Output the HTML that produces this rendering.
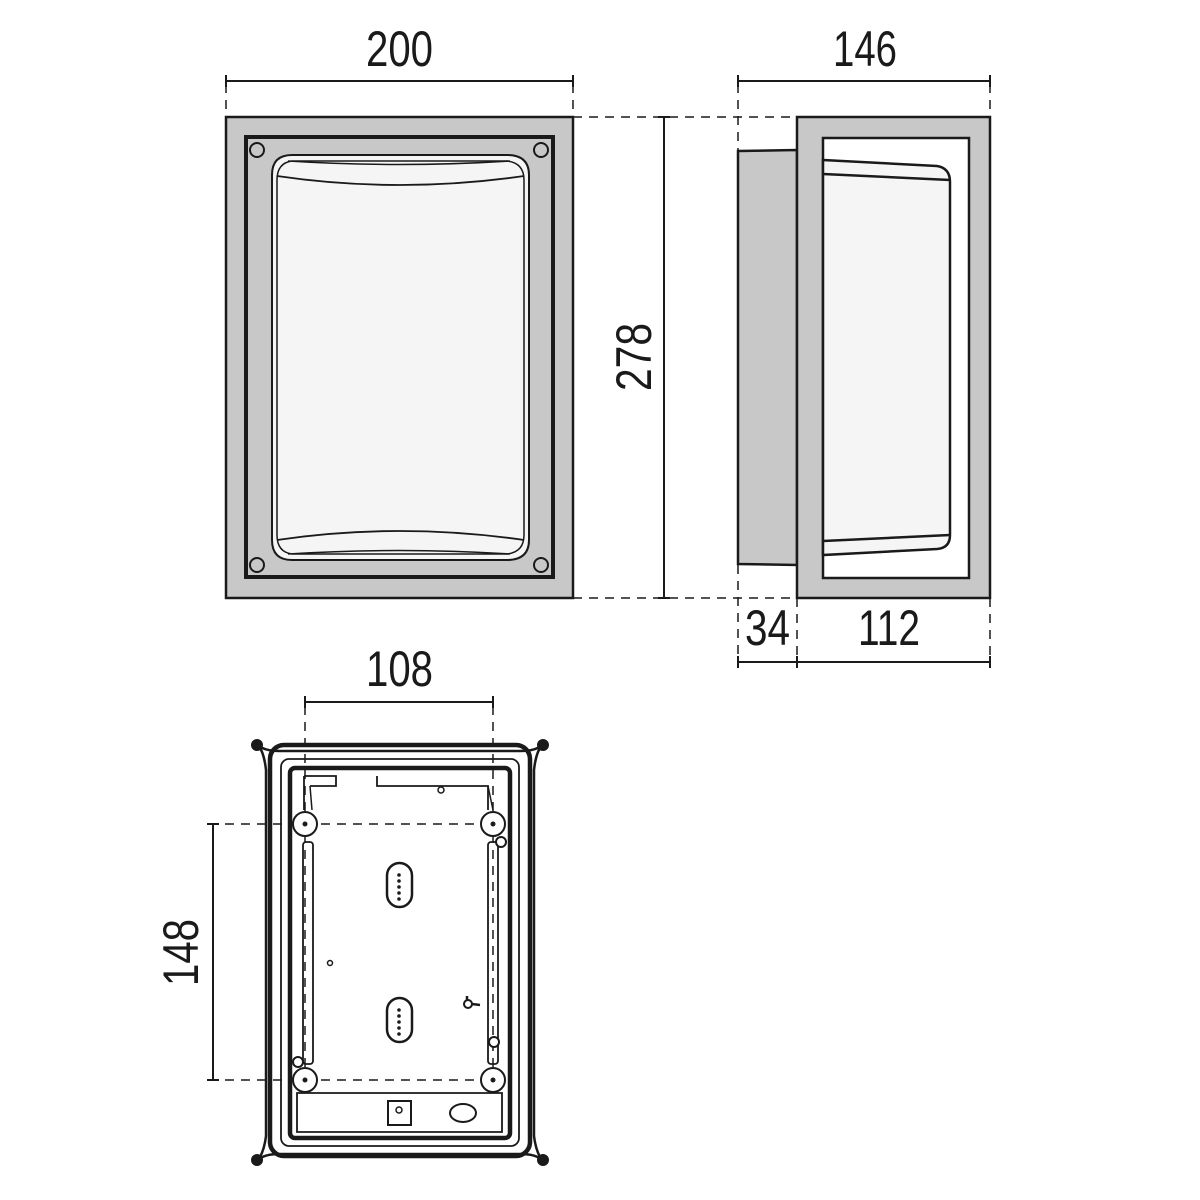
<!DOCTYPE html>
<html><head><meta charset="utf-8"><style>
html,body{margin:0;padding:0;background:#fff}
svg{display:block}
text{font-family:"Liberation Sans",sans-serif;font-size:50px;fill:#1a1a1a}
</style></head><body>
<svg width="1200" height="1200" viewBox="0 0 1200 1200" xmlns="http://www.w3.org/2000/svg">
<g stroke="#1a1a1a" fill="none" stroke-width="2">
<g stroke-dasharray="9,7" stroke-width="1.5">
<line x1="226" y1="84" x2="226" y2="117"/><line x1="573" y1="84" x2="573" y2="117"/>
<line x1="573" y1="117" x2="797" y2="117"/><line x1="573" y1="598" x2="797" y2="598"/>
<line x1="738" y1="84" x2="738" y2="150"/><line x1="990" y1="84" x2="990" y2="117"/>
<line x1="738" y1="565" x2="738" y2="666"/><line x1="797" y1="598" x2="797" y2="666"/><line x1="990" y1="598" x2="990" y2="666"/>
<line x1="305" y1="706" x2="305" y2="1080"/><line x1="493" y1="706" x2="493" y2="1080"/>
<line x1="209" y1="824" x2="493" y2="824"/><line x1="209" y1="1080" x2="493" y2="1080"/>
</g>
<line x1="226" y1="81" x2="573" y2="81"/><line x1="226" y1="75" x2="226" y2="87"/><line x1="573" y1="75" x2="573" y2="87"/>
<line x1="738" y1="81" x2="990" y2="81"/><line x1="738" y1="75" x2="738" y2="87"/><line x1="990" y1="75" x2="990" y2="87"/>
<line x1="664" y1="117" x2="664" y2="598"/><line x1="658" y1="117" x2="670" y2="117"/><line x1="658" y1="598" x2="670" y2="598"/>
<line x1="738" y1="662" x2="990" y2="662"/><line x1="738" y1="656" x2="738" y2="668"/><line x1="797" y1="656" x2="797" y2="668"/><line x1="990" y1="656" x2="990" y2="668"/>
<line x1="305" y1="702" x2="493" y2="702"/><line x1="305" y1="696" x2="305" y2="708"/><line x1="493" y1="696" x2="493" y2="708"/>
<line x1="213" y1="824" x2="213" y2="1080"/><line x1="207" y1="824" x2="219" y2="824"/><line x1="207" y1="1080" x2="219" y2="1080"/>

<rect x="226" y="117" width="347" height="481" fill="#c8c8c8" stroke-width="2.5"/>
<rect x="246" y="137" width="307" height="440" fill="#c8c8c8" stroke-width="4"/>
<circle cx="257" cy="150" r="7" fill="#c8c8c8"/><circle cx="541" cy="150" r="7" fill="#c8c8c8"/>
<circle cx="257" cy="565" r="7" fill="#c8c8c8"/><circle cx="541" cy="565" r="7" fill="#c8c8c8"/>
<path d="M272 175 Q272 155 292 155 L507 155 Q529 155 529 175 L529 540 Q529 560 507 560 L292 560 Q272 560 272 540 Z" fill="#f5f5f5"/>
<path d="M277 180 Q277 163 292 161 L507 161 Q524 163 524 180 L524 535 Q524 552 507 554 L292 554 Q277 552 277 535 Z" stroke-width="1.5"/>
<path d="M277 176 Q399 194 524 176" stroke-width="1.8"/>
<path d="M288 161 Q399 168 510 161" stroke-width="1.5"/>
<path d="M277 540 Q399 522 524 540" stroke-width="1.8"/>
<path d="M288 554 Q399 547 510 554" stroke-width="1.5"/>

<path d="M738 151 L797 150 L797 565 L738 564 Z" fill="#c8c8c8" stroke-width="2.5"/>
<rect x="797" y="117" width="193" height="481" fill="#c8c8c8" stroke-width="2.5"/>
<rect x="823" y="138" width="146" height="440" fill="#fff" stroke-width="2.5"/>
<path d="M823 160 L937 166 Q950 168 950 182 L950 535 Q950 548 937 549 L823 555 Z" fill="#f5f5f5" stroke-width="2.5"/>
<path d="M823 174 L950 180" stroke-width="2.5"/><path d="M823 541 L950 535" stroke-width="2.5"/>

<path d="M258 745 Q264 752 266 770 L266 1136 Q264 1152 258 1160 Q264 1154 280 1154 L520 1154 Q536 1154 542 1160 Q536 1152 534 1136 L534 770 Q536 752 542 745 Q536 751 520 751 L280 751 Q264 751 258 745 Z" stroke-width="2.5"/>
<circle cx="257" cy="745" r="5" fill="#1a1a1a"/><circle cx="543" cy="745" r="5" fill="#1a1a1a"/>
<circle cx="257" cy="1160" r="5" fill="#1a1a1a"/><circle cx="543" cy="1160" r="5" fill="#1a1a1a"/>
<rect x="270" y="745" width="260" height="411" rx="14" stroke-width="4.5"/>
<rect x="281" y="759" width="238" height="387" rx="8" stroke-width="1.8"/>
<rect x="290" y="768" width="220" height="370" rx="5" stroke-width="4.5"/>
<path d="M297 1093 L502 1093 L502 1132 L297 1132 Z" stroke-width="1.8"/>
<path d="M304 776 L336 776 L336 786 L310 786 M377 776 L377 786 L488 786 L488 810 M304 776 L304 810" stroke-width="1.8"/>
<path d="M310 786 L312 810 M488 786 L493 810" stroke-width="1.5"/>
<rect x="303" y="842" width="10" height="222" rx="3" stroke-width="1.8"/>
<rect x="488" y="842" width="10" height="222" rx="3" stroke-width="1.8"/>
<g fill="#fff" stroke-width="2">
<circle cx="305" cy="824" r="12"/><circle cx="493" cy="824" r="12"/>
<circle cx="305" cy="1080" r="12"/><circle cx="493" cy="1080" r="12"/>
<circle cx="501" cy="842" r="5"/><circle cx="494" cy="1042" r="5"/><circle cx="298" cy="1062" r="5"/>
</g>
<g fill="#1a1a1a" stroke="none">
<circle cx="305" cy="824" r="2.5"/><circle cx="493" cy="824" r="2.5"/><circle cx="305" cy="1080" r="2.5"/><circle cx="493" cy="1080" r="2.5"/>
<circle cx="399" cy="875" r="1.8"/><circle cx="399" cy="881" r="1.8"/><circle cx="399" cy="887" r="1.8"/><circle cx="399" cy="893" r="1.8"/><circle cx="399" cy="899" r="1.8"/>
<circle cx="399" cy="1010" r="1.8"/><circle cx="399" cy="1016" r="1.8"/><circle cx="399" cy="1022" r="1.8"/><circle cx="399" cy="1028" r="1.8"/><circle cx="399" cy="1034" r="1.8"/>
</g>
<rect x="387" y="863" width="25" height="44" rx="12.5" stroke-width="2.5"/>
<rect x="387" y="998" width="25" height="44" rx="12.5" stroke-width="2.5"/>
<circle cx="441" cy="790" r="3" stroke-width="1.5"/><circle cx="330" cy="963" r="2.5" stroke-width="1.5"/>
<circle cx="468" cy="1004" r="4" stroke-width="2"/><path d="M467 996 L467 1000 M472 1004 L480 1005" stroke-width="2.5"/>
<rect x="388" y="1101" width="23" height="24" stroke-width="2"/><circle cx="399" cy="1110" r="3" stroke-width="1.5"/>
<ellipse cx="463" cy="1113" rx="13" ry="9" stroke-width="2"/>
</g>
<text x="366" y="66" textLength="67" lengthAdjust="spacingAndGlyphs">200</text>
<text x="833" y="66" textLength="64" lengthAdjust="spacingAndGlyphs">146</text>
<text x="745" y="645" textLength="45" lengthAdjust="spacingAndGlyphs">34</text>
<text x="858" y="645" textLength="62" lengthAdjust="spacingAndGlyphs">112</text>
<text x="366" y="686" textLength="67" lengthAdjust="spacingAndGlyphs">108</text>
<text transform="translate(651,391) rotate(-90)" textLength="68" lengthAdjust="spacingAndGlyphs">278</text>
<text transform="translate(198,986) rotate(-90)" textLength="67" lengthAdjust="spacingAndGlyphs">148</text>
</svg>
</body></html>
